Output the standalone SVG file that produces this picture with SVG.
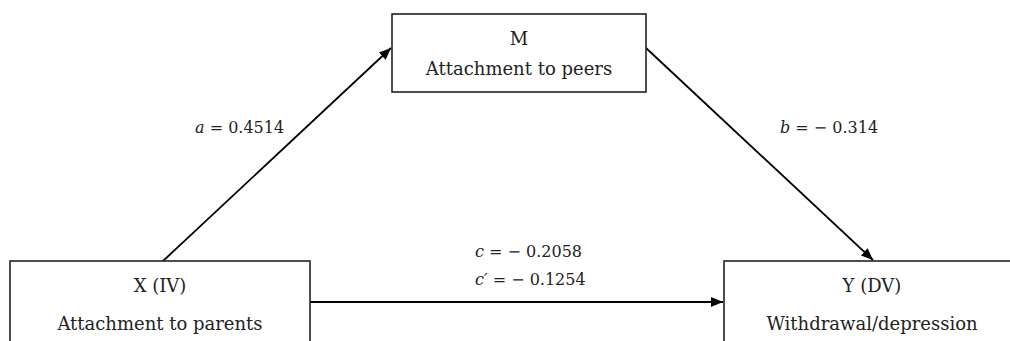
<svg xmlns="http://www.w3.org/2000/svg" width="1010" height="341" viewBox="0 0 1010 341">
<style>
.box{fill:#fff;stroke:#222;stroke-width:1.6}
.t{font-family:"DejaVu Serif","Liberation Serif",serif;font-size:18px;fill:#222;text-anchor:middle}
.l{font-family:"DejaVu Serif","Liberation Serif",serif;font-size:16px;fill:#222}
.e{stroke:#000;stroke-width:1.8;fill:none}
</style>
<defs>
<marker id="ah" viewBox="0 0 12 10" refX="12" refY="5" markerWidth="12" markerHeight="10" markerUnits="userSpaceOnUse" orient="auto">
<path d="M0,0 L12,5 L0,10 z" fill="#000"/>
</marker>
</defs>
<g id="connectors">
<line class="e" x1="163" y1="261" x2="391" y2="48" marker-end="url(#ah)"/>
<line class="e" x1="646" y1="48" x2="873" y2="260" marker-end="url(#ah)"/>
<line class="e" x1="310" y1="302" x2="723" y2="302" marker-end="url(#ah)"/>
</g>
<g id="node-M">
<rect class="box" x="392" y="14" width="254" height="78"/>
<text class="t" x="519" y="45">M</text>
<text class="t" x="519" y="75">Attachment to peers</text>
</g>
<g id="node-X">
<rect class="box" x="10" y="261" width="300" height="100"/>
<text class="t" x="160" y="292">X (IV)</text>
<text class="t" x="160" y="330">Attachment to parents</text>
</g>
<g id="node-Y">
<rect class="box" x="724" y="261" width="300" height="100"/>
<text class="t" x="872" y="292">Y (DV)</text>
<text class="t" x="872" y="330">Withdrawal/depression</text>
</g>
<g id="labels">
<text class="l" x="195" y="133"><tspan font-style="italic">a</tspan> = 0.4514</text>
<text class="l" x="780" y="133"><tspan font-style="italic">b</tspan> = − 0.314</text>
<text class="l" x="475" y="257"><tspan font-style="italic">c</tspan> = − 0.2058</text>
<text class="l" x="475" y="285"><tspan font-style="italic">c′</tspan> = − 0.1254</text>
</g>
</svg>
